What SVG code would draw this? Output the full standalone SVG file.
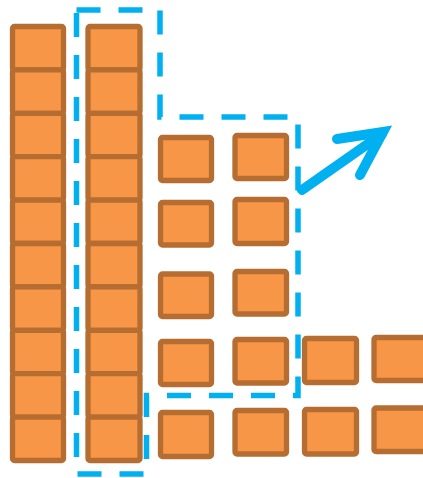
<svg xmlns="http://www.w3.org/2000/svg" width="423" height="478" viewBox="0 0 423 478">
<style>
.b{fill:#F79646;stroke:#B66D31;stroke-width:5.3;}
.d{fill:none;stroke:#00B0F0;stroke-width:5.5;stroke-dasharray:24 18;}
.a{fill:none;stroke:#00B0F0;stroke-width:10;stroke-linecap:round;stroke-linejoin:miter;}
</style>
<rect width="423" height="478" fill="#fff"/>
<g id="column1">
<rect class="b" x="12.5" y="26.5" width="51" height="43.4" rx="2"/>
<rect class="b" x="12.5" y="69.9" width="51" height="43.4" rx="2"/>
<rect class="b" x="12.5" y="113.3" width="51" height="43.4" rx="2"/>
<rect class="b" x="12.5" y="156.7" width="51" height="43.4" rx="2"/>
<rect class="b" x="12.5" y="200.1" width="51" height="43.4" rx="2"/>
<rect class="b" x="12.5" y="243.5" width="51" height="43.4" rx="2"/>
<rect class="b" x="12.5" y="286.9" width="51" height="43.4" rx="2"/>
<rect class="b" x="12.5" y="330.3" width="51" height="43.4" rx="2"/>
<rect class="b" x="12.5" y="373.7" width="51" height="43.4" rx="2"/>
<rect class="b" x="12.5" y="417.1" width="51" height="43.4" rx="2"/>
</g>
<g id="column2">
<rect class="b" x="88" y="26.5" width="52" height="43.4" rx="2"/>
<rect class="b" x="88" y="69.9" width="52" height="43.4" rx="2"/>
<rect class="b" x="88" y="113.3" width="52" height="43.4" rx="2"/>
<rect class="b" x="88" y="156.7" width="52" height="43.4" rx="2"/>
<rect class="b" x="88" y="200.1" width="52" height="43.4" rx="2"/>
<rect class="b" x="88" y="243.5" width="52" height="43.4" rx="2"/>
<rect class="b" x="88" y="286.9" width="52" height="43.4" rx="2"/>
<rect class="b" x="88" y="330.3" width="52" height="43.4" rx="2"/>
<rect class="b" x="88" y="373.7" width="52" height="43.4" rx="2"/>
<rect class="b" x="88" y="417.1" width="52" height="43.4" rx="2"/>
</g>
<g id="squares">
<rect class="b" x="160.5" y="137.5" width="51" height="43" rx="2"/>
<rect class="b" x="235" y="135.5" width="51.5" height="43" rx="2"/>
<rect class="b" x="160.5" y="202.5" width="51" height="42.5" rx="2"/>
<rect class="b" x="235" y="199.5" width="51.5" height="44" rx="2"/>
<rect class="b" x="160.5" y="274" width="51" height="42.5" rx="2"/>
<rect class="b" x="235" y="271.5" width="51.5" height="42.5" rx="2"/>
<rect class="b" x="160.5" y="341.5" width="51" height="43" rx="2"/>
<rect class="b" x="235" y="339.5" width="51.5" height="43.5" rx="2"/>
<rect class="b" x="304.5" y="338.5" width="52" height="44" rx="2"/>
<rect class="b" x="374" y="337.5" width="52" height="43" rx="2"/>
<rect class="b" x="160.5" y="412.5" width="51" height="44" rx="2"/>
<rect class="b" x="235" y="410.5" width="51.5" height="43.5" rx="2"/>
<rect class="b" x="304.5" y="409.5" width="52" height="44.5" rx="2"/>
<rect class="b" x="374" y="408" width="52" height="43.5" rx="2"/>
</g>
<g id="connectors">
<path class="d" d="M76.5,10 H160 V117 H298 V395.5 H146.5 V474 H76.5 Z"/>
<path class="a" d="M302,190 L382,134"/>
<path class="a" d="M337,139 L383,132 L360,175"/>
</g>
</svg>
